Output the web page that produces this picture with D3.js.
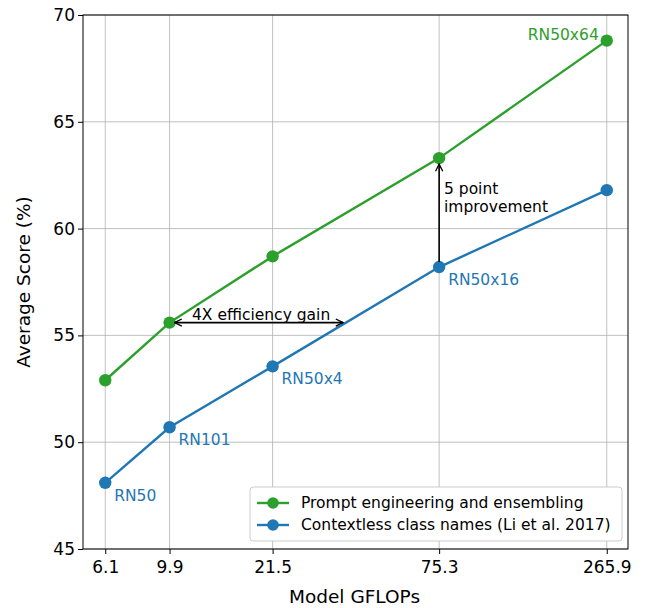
<!DOCTYPE html>
<html><head><meta charset="utf-8">
<script src="https://cdn.jsdelivr.net/npm/d3@7"></script>
<style>body{margin:0;background:#fff}text{font-family:"DejaVu Sans",sans-serif}</style>
</head><body><svg id="c" width="645" height="608"></svg>
<script>
const gflops=[6.1,9.9,21.5,75.3,265.9];
const tickLabels=["6.1","9.9","21.5","75.3","265.9"];
const prompt=[52.9,55.6,58.7,63.3,68.8];
const contextless=[48.1,50.7,53.55,58.2,61.8];
const blueLabels=["RN50","RN101","RN50x4","RN50x16",""];
const yTicks=[45,50,55,60,65,70];
const green="#2ca02c",blue="#1f77b4";
const svg=d3.select("#c");
const L=83,R=628,T=15,B=549;
const x=d3.scaleLog().domain([5.16,312]).range([L,R]);
const y=d3.scaleLinear().domain([45,70]).range([B,T]);
const g=svg.append("g");
gflops.forEach(v=>g.append("line").attr("x1",x(v)).attr("x2",x(v)).attr("y1",T).attr("y2",B).attr("stroke","#b0b0b0").attr("stroke-width",0.8));
yTicks.forEach(v=>g.append("line").attr("x1",L).attr("x2",R).attr("y1",y(v)).attr("y2",y(v)).attr("stroke","#b0b0b0").attr("stroke-width",0.8));
const xa=svg.append("g").attr("transform",`translate(0,${B})`).call(d3.axisBottom(x).tickValues(gflops).tickFormat((d,i)=>tickLabels[i]).tickSizeOuter(0).tickSize(5));
const ya=svg.append("g").attr("transform",`translate(${L},0)`).call(d3.axisLeft(y).tickValues(yTicks).tickSizeOuter(0).tickSize(5));
[xa,ya].forEach(a=>{a.selectAll("text").attr("font-size",17).attr("fill","#000");a.select(".domain").remove();a.selectAll(".tick line").attr("stroke","#000");});
xa.selectAll("text").attr("dy","0.95em");
svg.append("rect").attr("x",L).attr("y",T).attr("width",R-L).attr("height",B-T).attr("fill","none").attr("stroke","#000").attr("stroke-width",1);
svg.append("text").attr("x",(L+R)/2-1).attr("y",603).attr("text-anchor","middle").attr("font-size",18.5).text("Model GFLOPs");
svg.append("text").attr("transform",`translate(30,${(T+B)/2}) rotate(-90)`).attr("text-anchor","middle").attr("font-size",18.5).text("Average Score (%)");
const line=d3.line().x((d,i)=>x(gflops[i])).y(d=>y(d));
[[prompt,green],[contextless,blue]].forEach(([s,c])=>{
 svg.append("path").attr("d",line(s)).attr("fill","none").attr("stroke",c).attr("stroke-width",2.4);
 s.forEach((v,i)=>svg.append("circle").attr("cx",x(gflops[i])).attr("cy",y(v)).attr("r",6.2).attr("fill",c));
});
blueLabels.forEach((t,i)=>{if(t)svg.append("text").attr("x",x(gflops[i])+9).attr("y",y(contextless[i])+18).attr("font-size",15.5).attr("fill",blue).text(t);});
svg.append("text").attr("x",x(gflops[4])-8).attr("y",y(prompt[4])-1).attr("text-anchor","end").attr("font-size",15.5).attr("fill",green).text("RN50x64");
const defs=svg.append("defs");
defs.append("marker").attr("id","ah").attr("viewBox","0 0 10 10").attr("refX",9).attr("refY",5).attr("markerWidth",9).attr("markerHeight",9).attr("orient","auto-start-reverse").attr("markerUnits","userSpaceOnUse")
 .append("path").attr("d","M1,1 L9,5 L1,9").attr("fill","none").attr("stroke","#000").attr("stroke-width",1.5);
const ay=y(prompt[1]);
svg.append("line").attr("x1",x(gflops[1])+5).attr("x2",343).attr("y1",ay).attr("y2",ay).attr("stroke","#000").attr("stroke-width",1.6).attr("marker-start","url(#ah)").attr("marker-end","url(#ah)");
svg.append("text").attr("x",192).attr("y",ay-3).attr("font-size",15.5).text("4X efficiency gain");
svg.append("line").attr("x1",x(gflops[3])).attr("x2",x(gflops[3])).attr("y1",y(contextless[3])-5).attr("y2",y(prompt[3])+6).attr("stroke","#000").attr("stroke-width",1.6).attr("marker-end","url(#ah)");
svg.append("text").attr("x",444).attr("y",194).attr("font-size",15.5).text("5 point");
svg.append("text").attr("x",444).attr("y",212).attr("font-size",15.5).text("improvement");
const lg=svg.append("g");
lg.append("rect").attr("x",250).attr("y",487).attr("width",372).attr("height",54).attr("rx",3).attr("fill","#fff").attr("stroke","#ccc");
[["Prompt engineering and ensembling",green],["Contextless class names (Li et al. 2017)",blue]].forEach(([t,c],i)=>{
 const yy=503+i*22;
 lg.append("line").attr("x1",257).attr("x2",289).attr("y1",yy).attr("y2",yy).attr("stroke",c).attr("stroke-width",2.4);
 lg.append("circle").attr("cx",273).attr("cy",yy).attr("r",5.8).attr("fill",c);
 lg.append("text").attr("x",301).attr("y",yy+5).attr("font-size",15.5).text(t);
});
</script></body></html>
